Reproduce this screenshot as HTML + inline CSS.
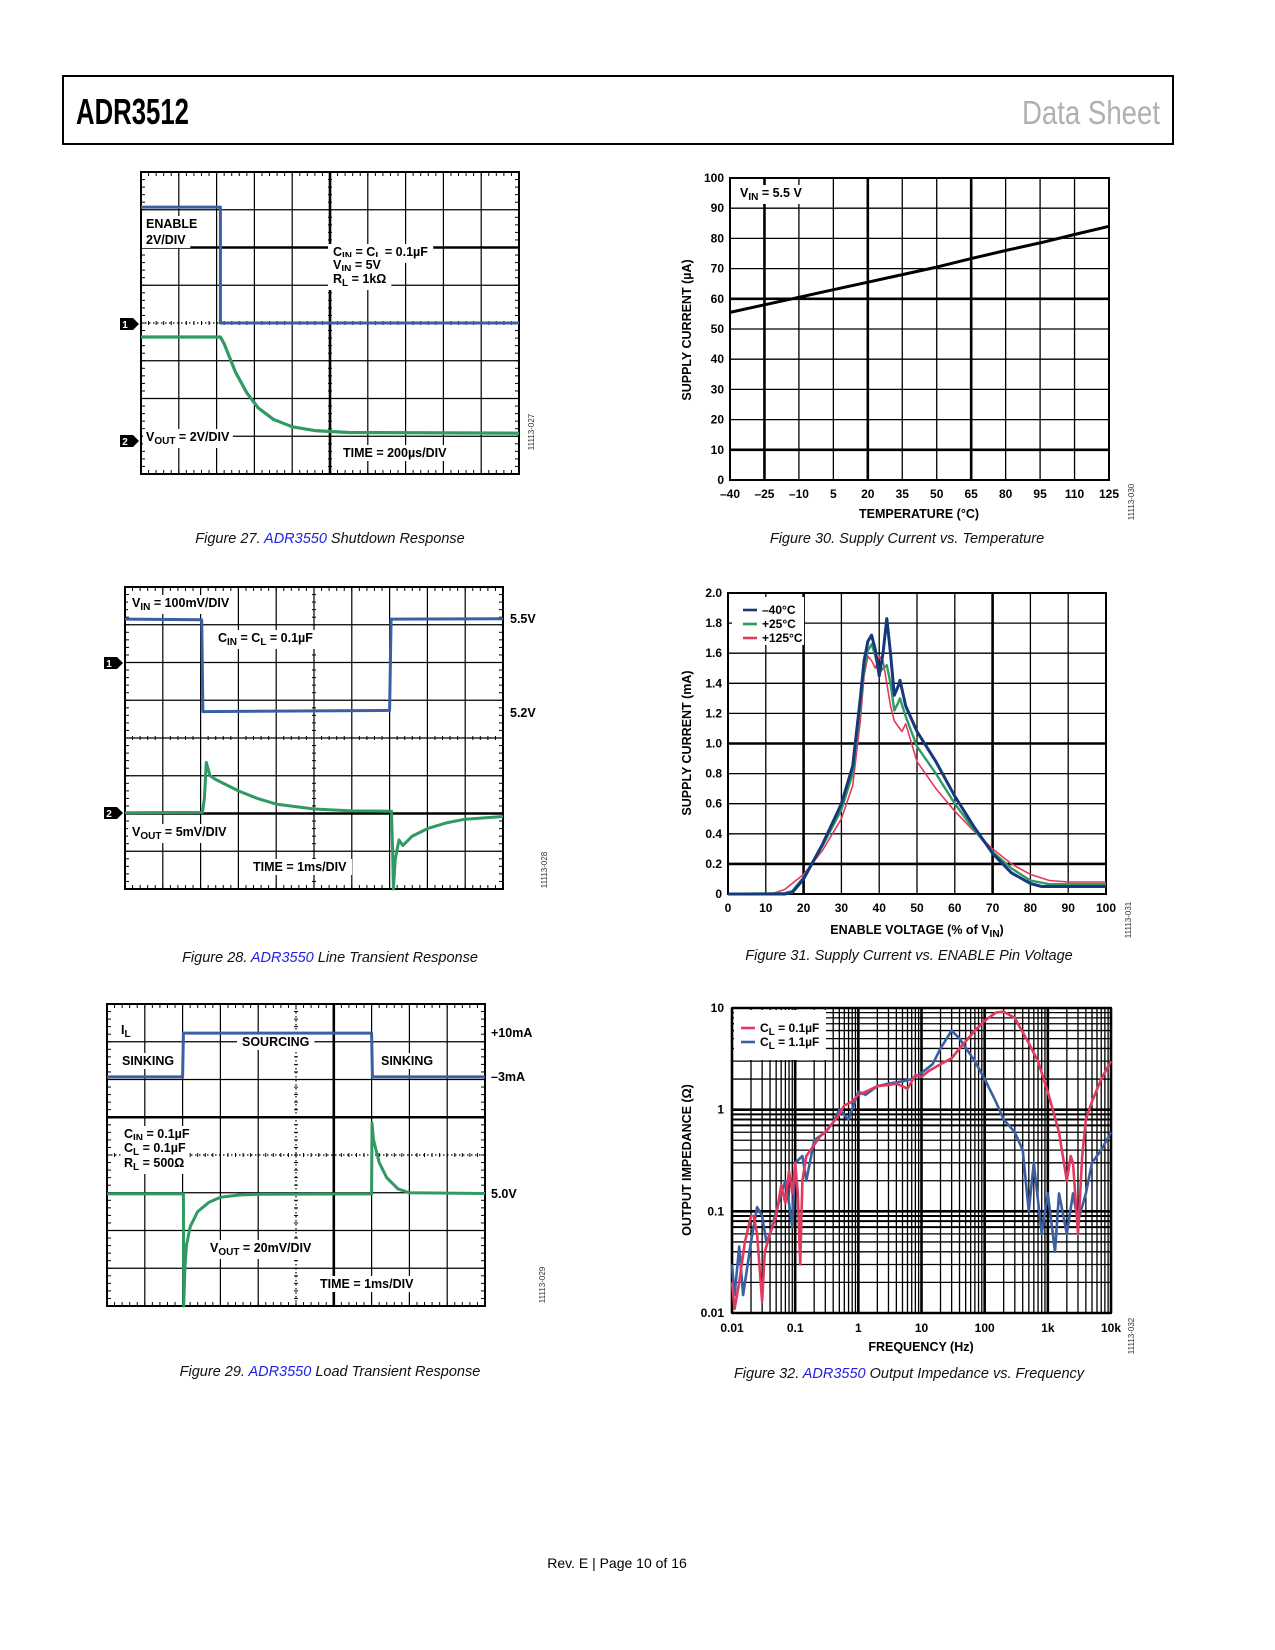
<!DOCTYPE html>
<html><head><meta charset="utf-8"><style>
html,body{margin:0;padding:0;background:#fff}
svg{display:block;font-family:"Liberation Sans",sans-serif}
</style></head><body>
<svg id="pg" width="1275" height="1650" viewBox="0 0 1275 1650" xmlns="http://www.w3.org/2000/svg">
<rect x="0" y="0" width="1275" height="1650" fill="#fff"/>
<rect x="63" y="76" width="1110" height="68" fill="none" stroke="#000" stroke-width="2"/>
<text x="76" y="124" font-size="36" font-weight="bold" textLength="113" lengthAdjust="spacingAndGlyphs">ADR3512</text>
<text x="1160" y="124" font-size="33" fill="#b0b0b0" text-anchor="end" textLength="138" lengthAdjust="spacingAndGlyphs">Data Sheet</text>
<text x="617" y="1568" font-size="14" text-anchor="middle">Rev. E | Page 10 of 16</text>
</svg>
<script>
// ---------- data ----------
const f27EnableT=[0,2.1,2.1,10];
const f27EnableV=[0.93,0.93,4.0,4.0];
const f27VoutT=[0,2.1,2.2,2.3,2.5,2.8,3.1,3.5,4,4.6,5.5,10];
const f27VoutV=[4.37,4.37,4.55,4.8,5.3,5.85,6.25,6.55,6.75,6.85,6.9,6.92];
const f28VinT=[0,2.03,2.06,7.0,7.04,10];
const f28VinV=[0.85,0.87,3.3,3.27,0.85,0.84];
const f28VoutT=[0,2.05,2.1,2.15,2.25,2.4,3,3.5,4,5,6,7.05,7.08,7.1,7.15,7.25,7.35,7.6,8,8.5,9,10];
const f28VoutV=[5.98,5.97,5.6,4.65,5.0,5.1,5.4,5.6,5.75,5.88,5.93,5.94,7.0,8.0,7.2,6.7,6.85,6.6,6.4,6.25,6.15,6.08];
const f29IlT=[0,2.0,2.02,7.0,7.02,10];
const f29IlV=[1.93,1.93,0.77,0.77,1.93,1.93];
const f29VoutT=[0,2.02,2.03,2.06,2.1,2.2,2.4,2.7,3,3.5,4,7.0,7.01,7.05,7.2,7.4,7.7,8,10];
const f29VoutV=[5.03,5.03,8,7.0,6.4,5.9,5.5,5.25,5.12,5.06,5.04,5.03,3.15,3.6,4.2,4.6,4.9,5.0,5.02];
const f30XTicks=[-40,-25,-10,5,20,35,50,65,80,95,110,125];
const f30YTicks=[0,10,20,30,40,50,60,70,80,90,100];
const f30Temp=[-40,-25,-10,5,20,35,50,65,80,95,110,125];
const f30Current=[55.5,58,60.5,63,65.5,68,70.5,73.3,76,78.5,81.3,84];
const f31XTicks=[0,10,20,30,40,50,60,70,80,90,100];
const f31YTicks=[0,0.2,0.4,0.6,0.8,1.0,1.2,1.4,1.6,1.8,2.0];
const f31BlueX=[0,10,15,17,20,25,30,33,35,36,37,38,39,40,41,42,43,44,45,45.5,47,50,55,60,65,70,75,80,83,90,100];
const f31BlueY=[0,0,0,0.01,0.1,0.33,0.6,0.85,1.3,1.55,1.68,1.72,1.62,1.45,1.6,1.83,1.6,1.32,1.38,1.42,1.25,1.08,0.88,0.65,0.45,0.27,0.14,0.07,0.05,0.05,0.05];
const f31GreenX=[0,15,17,20,25,30,33,35,36,37,38,39,40,41,42,43,44,45,45.5,47,50,55,60,65,70,75,80,85,100];
const f31GreenY=[0,0.005,0.02,0.11,0.32,0.56,0.8,1.25,1.5,1.62,1.66,1.58,1.47,1.5,1.52,1.4,1.22,1.27,1.3,1.18,0.98,0.8,0.6,0.43,0.28,0.17,0.09,0.065,0.065];
const f31RedX=[0,12,15,20,25,30,33,35,36,37,38,39,40,41,42,43,44,46,47,48,50,55,60,65,70,75,80,85,90,100];
const f31RedY=[0,0.005,0.03,0.13,0.29,0.5,0.72,1.15,1.45,1.58,1.55,1.5,1.58,1.55,1.4,1.25,1.15,1.08,1.13,1.05,0.88,0.7,0.55,0.42,0.3,0.2,0.13,0.09,0.08,0.08];
const f32XTicks=[0.01,0.1,1,10,100,1000,10000];
const f32XLabels=['0.01','0.1','1','10','100','1k','10k'];
const f32YTicks=[0.01,0.1,1,10];
const f32YLabels=['0.01','0.1','1','10'];
const f32RedF=[0.01,0.011,0.013,0.016,0.02,0.022,0.025,0.03,0.033,0.04,0.05,0.06,0.07,0.08,0.09,0.1,0.11,0.12,0.13,0.15,0.2,0.25,0.3,0.4,0.5,0.6,0.8,1,1.3,2,3,4,5,6,8,10,13,20,30,40,70,100,150,200,300,500,700,1000,1500,2000,2300,2500,3000,3500,4000,5000,7000,10000];
const f32RedZ=[0.02,0.011,0.02,0.05,0.09,0.09,0.06,0.013,0.04,0.06,0.09,0.18,0.12,0.25,0.15,0.3,0.15,0.03,0.2,0.35,0.45,0.55,0.6,0.75,0.9,1.1,1.2,1.4,1.5,1.7,1.75,1.8,1.7,1.6,2.2,2.1,2.4,2.8,3.2,4,6,7.5,9,9.2,8,4.5,3,1.5,0.6,0.2,0.35,0.3,0.06,0.35,0.8,1.2,2,3];
const f32BlueF=[0.01,0.011,0.013,0.015,0.02,0.025,0.03,0.035,0.04,0.05,0.06,0.07,0.08,0.09,0.1,0.13,0.15,0.2,0.3,0.4,0.5,0.7,1,1.3,2,3,5,7,10,15,20,30,40,70,100,150,200,300,400,500,600,800,1000,1300,1500,2000,2500,3000,4000,5000,7000,10000];
const f32BlueZ=[0.03,0.015,0.045,0.015,0.05,0.11,0.09,0.05,0.06,0.1,0.15,0.2,0.12,0.07,0.3,0.35,0.2,0.5,0.6,0.75,1,0.8,1.5,1.4,1.7,1.8,1.9,2,2.3,2.8,4,6,5,3,2,1.2,0.8,0.6,0.4,0.1,0.3,0.06,0.15,0.04,0.15,0.06,0.15,0.08,0.15,0.3,0.4,0.6];

// ---------- helpers ----------
const NS='http://www.w3.org/2000/svg';
const svg=document.getElementById('pg');
function mk(tag,parent){const e=document.createElementNS(NS,tag);parent.appendChild(e);return e;}
function ln(p,x1,y1,x2,y2,w,col,dash){const e=mk('line',p);e.setAttribute('x1',x1);e.setAttribute('y1',y1);e.setAttribute('x2',x2);e.setAttribute('y2',y2);e.setAttribute('stroke',col||'#000');e.setAttribute('stroke-width',w);if(dash)e.setAttribute('stroke-dasharray',dash);return e;}
function tx(p,x,y,html,size,anchor,weight,fill,style){const e=mk('text',p);e.setAttribute('x',x);e.setAttribute('y',y);e.setAttribute('font-size',size||13);if(anchor)e.setAttribute('text-anchor',anchor);if(weight)e.setAttribute('font-weight',weight);if(fill)e.setAttribute('fill',fill);if(style)e.setAttribute('font-style',style);e.innerHTML=html;return e;}
function bg(p,t,pad){const b=t.getBBox();const r=document.createElementNS(NS,'rect');r.setAttribute('x',b.x-pad);r.setAttribute('y',b.y-1);r.setAttribute('width',b.width+2*pad);r.setAttribute('height',b.height+2);r.setAttribute('fill','#fff');p.insertBefore(r,t);}
function sub(s){return '<tspan dy="3" font-size="10">'+s+'</tspan><tspan dy="-3">';}
function caption(p,cx,y,num,link,rest){
  const t=tx(p,cx,y,'Figure '+num+'. '+(link?'<tspan fill="#1f1fe0">'+link+'</tspan>':'')+rest,14.5,'middle',null,'#111','italic');
  
  
}
function figId(p,x,y,s){const t=tx(p,0,0,s,8,'middle',null,'#333');t.setAttribute('transform','translate('+x+','+y+') rotate(-90)');}
function marker(p,x,y,n){const g=mk('g',p);
  const q=mk('path',g);q.setAttribute('d','M'+(x-19)+','+(y-6)+'h13l6,6l-6,6h-13z');q.setAttribute('fill','#000');
  tx(g,x-14,y+4,n,10,'middle','bold','#fff');}

function scope(name,L,T,W,H,thickH,thickV,dotH,dotV){
  const g=mk('g',svg);
  const dx=W/10,dy=H/8;
  for(let i=1;i<10;i++){const l=ln(g,L+i*dx,T,L+i*dx,T+H,thickV.includes(i)?2.6:1.2,'#000',dotV.includes(i)?'1.5 2.5':null);}
  for(let j=1;j<8;j++){const l=ln(g,L,T+j*dy,L+W,T+j*dy,thickH.includes(j)?2.6:1.2,'#000',dotH.includes(j)?'1.5 2.5':null);}
  for(let k=1;k<50;k++){const x=L+k*dx/5;ln(g,x,T,x,T+4,1);ln(g,x,T+H,x,T+H-4,1);ln(g,x,T+4*dy-2,x,T+4*dy+2,1);}
  for(let k=1;k<40;k++){const y=T+k*dy/5;ln(g,L,y,L+4,y,1);ln(g,L+W,y,L+W-4,y,1);ln(g,L+5*dx-2,y,L+5*dx+2,y,1);}
  const b=mk('rect',g);b.setAttribute('x',L);b.setAttribute('y',T);b.setAttribute('width',W);b.setAttribute('height',H);b.setAttribute('fill','none');b.setAttribute('stroke','#000');b.setAttribute('stroke-width',2);
  
  return {g,x:d=>L+d*dx,y:d=>T+d*dy};
}
function trace(s,ts,vs,col,w,name){const p=mk('polyline',s.g);p.setAttribute('points',ts.map((t,i)=>s.x(t).toFixed(1)+','+s.y(vs[i]).toFixed(1)).join(' '));p.setAttribute('fill','none');p.setAttribute('stroke',col);p.setAttribute('stroke-width',w);p.setAttribute('stroke-linejoin','round');
  
  }
function label(s,x,y,html,pad){const t=tx(s.g,x,y,html,12.5,null,'bold');bg(s.g,t,pad==null?3:pad);return t;}

const BLUE='#3b5fa3',GREEN='#2f9a62',RED='#e03a5e',NAVY='#15397a';

// ---------- Fig 27 ----------
{const s=scope('figure-27-scope',141,172,378,302,[2],[5],[4],[]);
 label(s,146,228,'ENABLE',4);label(s,146,244,'2V/DIV',4);
 label(s,333,256,'C'+sub('IN')+' = C</tspan>'+sub('L')+' = 0.1µF</tspan>',5);
 label(s,333,269,'V'+sub('IN')+' = 5V</tspan>',5);
 label(s,333,283,'R'+sub('L')+' = 1kΩ</tspan>',5);
 trace(s,f27EnableT,f27EnableV,BLUE,3,'enable-trace');
 trace(s,f27VoutT,f27VoutV,GREEN,3.2,'vout-trace');
 label(s,146,441,'V'+sub('OUT')+' = 2V/DIV</tspan>',3);
 label(s,343,457,'TIME = 200µs/DIV',5);
 marker(svg,139,324,'1');marker(svg,139,441,'2');
 figId(svg,534,432,'11113-027');
 caption(svg,330,543,27,'ADR3550',' Shutdown Response');}

// ---------- Fig 28 ----------
{const s=scope('figure-28-scope',125,587,378,302,[6],[],[],[]);
 label(s,132,607,'V'+sub('IN')+' = 100mV/DIV</tspan>',4);
 label(s,218,642,'C'+sub('IN')+' = C</tspan>'+sub('L')+' = 0.1µF</tspan>',5);
 trace(s,f28VinT,f28VinV,BLUE,3,'vin-trace');
 trace(s,f28VoutT,f28VoutV,GREEN,3,'vout-trace');
 label(s,132,836,'V'+sub('OUT')+' = 5mV/DIV</tspan>',4);
 label(s,253,871,'TIME = 1ms/DIV',5);
 let t=tx(svg,510,623,'5.5V',12.5,null,'bold');
 t=tx(svg,510,717,'5.2V',12.5,null,'bold');
 marker(svg,123,663,'1');marker(svg,123,813,'2');
 figId(svg,547,870,'11113-028');
 caption(svg,330,962,28,'ADR3550',' Line Transient Response');}

// ---------- Fig 29 ----------
{const s=scope('figure-29-scope',107,1004,378,302,[3],[6],[4],[5]);
 label(s,121,1034,'I'+sub('L')+'</tspan>',2);
 label(s,242,1046,'SOURCING',5);
 label(s,122,1065,'SINKING',3);label(s,381,1065,'SINKING',3);
 trace(s,f29IlT,f29IlV,BLUE,3,'load-current-trace');
 trace(s,f29VoutT,f29VoutV,GREEN,3,'vout-trace');
 label(s,124,1138,'C'+sub('IN')+' =  0.1µF</tspan>',3);
 label(s,124,1152,'C'+sub('L')+' =  0.1µF</tspan>',3);
 label(s,124,1167,'R'+sub('L')+' = 500Ω</tspan>',3);
 label(s,210,1252,'V'+sub('OUT')+' = 20mV/DIV</tspan>',3);
 label(s,320,1288,'TIME = 1ms/DIV',5);
 let t=tx(svg,491,1037,'+10mA',12.5,null,'bold');
 t=tx(svg,491,1081,'–3mA',12.5,null,'bold');
 t=tx(svg,491,1198,'5.0V',12.5,null,'bold');
 figId(svg,545,1285,'11113-029');
 caption(svg,330,1376,29,'ADR3550',' Load Transient Response');}

// ---------- linear chart helper ----------
function linChart(name,L,T,W,H,xt,yt,thX,thY,fmtY){
  const g=mk('g',svg);
  const x0=xt[0],x1=xt[xt.length-1],y0=yt[0],y1=yt[yt.length-1];
  const X=v=>L+(v-x0)/(x1-x0)*W, Y=v=>T+H-(v-y0)/(y1-y0)*H;
  xt.forEach((v,i)=>{const l=ln(g,X(v),T,X(v),T+H,thX.includes(i)?2.6:1.3);
    const t=tx(g,X(v),T+H+18,String(v).replace('-','–'),12,'middle','bold');});
  yt.forEach((v,i)=>{const l=ln(g,L,Y(v),L+W,Y(v),thY.includes(i)?2.6:1.3);
    const t=tx(g,L-6,Y(v)+4,fmtY(v),12,'end','bold');});
  const b=mk('rect',g);b.setAttribute('x',L);b.setAttribute('y',T);b.setAttribute('width',W);b.setAttribute('height',H);b.setAttribute('fill','none');b.setAttribute('stroke','#000');b.setAttribute('stroke-width',2);
  
  return {g,X,Y};
}
function series(c,xs,ys,col,w,name){const p=mk('polyline',c.g);p.setAttribute('points',xs.map((x,i)=>c.X(x).toFixed(1)+','+c.Y(ys[i]).toFixed(1)).join(' '));p.setAttribute('fill','none');p.setAttribute('stroke',col);p.setAttribute('stroke-width',w);p.setAttribute('stroke-linejoin','round');
  
  }
function ytitle(x,y,html){const t=tx(svg,0,0,html,12.5,'middle','bold');t.setAttribute('transform','translate('+x+','+y+') rotate(-90)');}
function xtitle(x,y,html){const t=tx(svg,x,y,html,12.5,'middle','bold');}
function legend(c,x,y,items){items.forEach((it,i)=>{const g=mk('g',c.g);
  ln(g,x,y+i*14-4,x+14,y+i*14-4,2.6,it[0]);tx(g,x+19,y+i*14,it[1],12,null,'bold');});}

// ---------- Fig 30 ----------
{const c=linChart('figure-30-chart',730,178,379,302,f30XTicks,f30YTicks,[1,4,7],[1,6],v=>String(v));
 const t=tx(c.g,740,197,'V'+sub('IN')+' = 5.5 V</tspan>',12.5,null,'bold');bg(c.g,t,5);
 series(c,f30Temp,f30Current,'#000',3,'supply-current-line');
 ytitle(691,330,'SUPPLY CURRENT (µA)');
 xtitle(919,518,'TEMPERATURE (°C)');
 figId(svg,1134,502,'11113-030');
 caption(svg,907,543,30,'','Supply Current vs. Temperature');}

// ---------- Fig 31 ----------
{const c=linChart('figure-31-chart',728,593,378,301,f31XTicks,f31YTicks,[2,7],[1,5],v=>v===0?'0':v.toFixed(1));
 const r=mk('rect',c.g);r.setAttribute('x',732);r.setAttribute('y',597);r.setAttribute('width',72);r.setAttribute('height',48);r.setAttribute('fill','#fff');
 legend(c,743,614,[[NAVY,'–40°C'],[GREEN,'+25°C'],[RED,'+125°C']]);
 series(c,f31RedX,f31RedY,RED,1.6,'series-125c');
 series(c,f31GreenX,f31GreenY,GREEN,2.4,'series-25c');
 series(c,f31BlueX,f31BlueY,NAVY,3,'series-minus-40c');
 ytitle(691,743,'SUPPLY CURRENT (mA)');
 xtitle(917,934,'ENABLE VOLTAGE (% of V'+sub('IN')+')</tspan>');
 figId(svg,1131,920,'11113-031');
 caption(svg,909,960,31,'','Supply Current vs. ENABLE Pin Voltage');}

// ---------- Fig 32 ----------
{const L=732,T=1008,W=379,H=305;
 const g=mk('g',svg);
 const lx0=Math.log10(f32XTicks[0]),lx1=Math.log10(f32XTicks[f32XTicks.length-1]);
 const ly0=Math.log10(f32YTicks[0]),ly1=Math.log10(f32YTicks[f32YTicks.length-1]);
 const X=v=>L+(Math.log10(v)-lx0)/(lx1-lx0)*W, Y=v=>T+H-(Math.log10(v)-ly0)/(ly1-ly0)*H;
 for(let d=0;d<f32XTicks.length-1;d++)for(let m=2;m<10;m++){const v=f32XTicks[d]*m;const l=ln(g,X(v),T,X(v),T+H,1.3);}
 for(let d=0;d<f32YTicks.length-1;d++)for(let m=2;m<10;m++){const v=f32YTicks[d]*m;const l=ln(g,L,Y(v),L+W,Y(v),(d===0&&m>=7)||(d===1&&m>=7)?2:1.3);}
 f32XTicks.forEach((v,i)=>{const l=ln(g,X(v),T,X(v),T+H,2.6);
   const t=tx(g,X(v),T+H+19,f32XLabels[i],12,'middle','bold');});
 f32YTicks.forEach((v,i)=>{const l=ln(g,L,Y(v),L+W,Y(v),2.6);
   const t=tx(g,L-8,Y(v)+4,f32YLabels[i],12,'end','bold');});
 const b=mk('rect',g);b.setAttribute('x',L);b.setAttribute('y',T);b.setAttribute('width',W);b.setAttribute('height',H);b.setAttribute('fill','none');b.setAttribute('stroke','#000');b.setAttribute('stroke-width',2);
 
 const c={g,X,Y};
 const r=mk('rect',g);r.setAttribute('x',734);r.setAttribute('y',1010);r.setAttribute('width',92);r.setAttribute('height',50);r.setAttribute('fill','#fff');
 legend(c,741,1032,[[RED,'C'+sub('L')+' = 0.1µF</tspan>'],[BLUE,'C'+sub('L')+' = 1.1µF</tspan>']]);
 series(c,f32BlueF,f32BlueZ,BLUE,2.6,'series-cl-1-1uf');
 series(c,f32RedF,f32RedZ,RED,2.6,'series-cl-0-1uf');
 ytitle(691,1160,'OUTPUT IMPEDANCE (Ω)');
 xtitle(921,1351,'FREQUENCY (Hz)');
 figId(svg,1134,1336,'11113-032');
 caption(svg,909,1378,32,'ADR3550',' Output Impedance vs. Frequency');}
</script>
</body></html>
